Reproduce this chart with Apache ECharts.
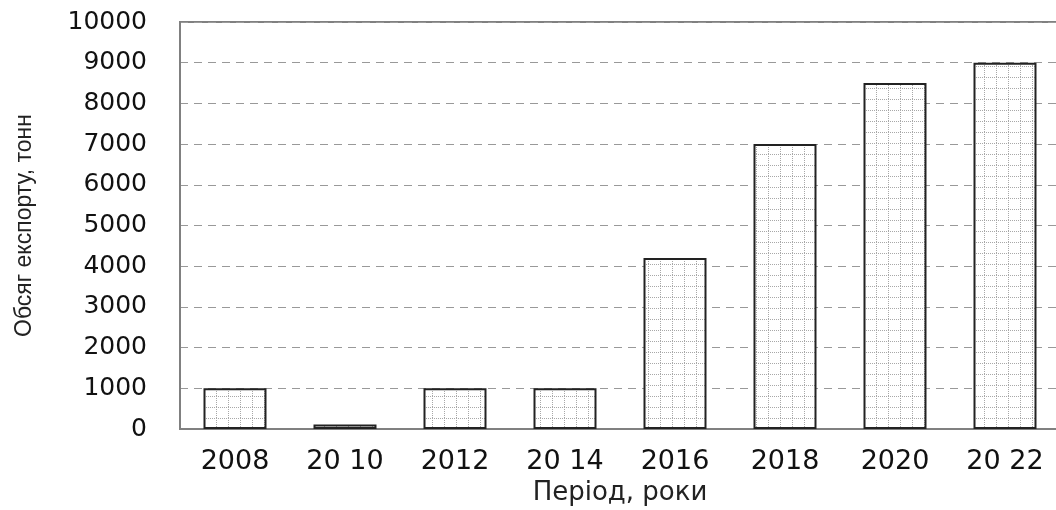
<!DOCTYPE html>
<html><head><meta charset="utf-8">
<script src="https://cdn.jsdelivr.net/npm/echarts@6/dist/echarts.min.js"></script>
<style>html,body{margin:0;padding:0;background:#fff}#c{width:1056px;height:510px}</style>
</head><body><div id="c"></div>
<script>
const categories = ['2008', '20 10', '2012', '20 14', '2016', '2018', '2020', '20 22'];
const exportVolume = [1000, 110, 1000, 1000, 4200, 7000, 8500, 9000];
const yTicks = [0, 1000, 2000, 3000, 4000, 5000, 6000, 7000, 8000, 9000, 10000];

function makePattern() {
  const c = document.createElement('canvas');
  c.width = 12; c.height = 11;
  const g = c.getContext('2d');
  g.fillStyle = '#ffffff'; g.fillRect(0, 0, 12, 11);
  g.fillStyle = '#a8a8a8';
  for (let y = 0; y < 11; y += 2) g.fillRect(0, y, 1, 1);
  for (let x = 0; x < 12; x += 2) g.fillRect(x, 0, 1, 1);
  return c;
}

const chart = echarts.init(document.getElementById('c'), null, {renderer: 'canvas'});
chart.setOption({
  animation: false,
  grid: {left: 180, top: 22, width: 880, height: 407, outerBoundsMode: 'none', containLabel: false,
    show: true, borderColor: '#808080', borderWidth: 2, backgroundColor: 'transparent'},
  xAxis: {
    type: 'category', data: categories,
    axisLine: {lineStyle: {color: '#808080', width: 2}},
    axisTick: {show: false},
    axisLabel: {color: '#111', fontFamily: 'DejaVu Sans', fontSize: 27, margin: 19},
    name: 'Період, роки', nameLocation: 'middle', nameGap: 51,
    nameTextStyle: {color: '#222', fontFamily: 'DejaVu Sans', fontSize: 26}
  },
  yAxis: {
    type: 'value', min: 0, max: 10000, interval: 1000,
    axisLine: {show: true, lineStyle: {color: '#808080', width: 2}},
    axisTick: {show: false},
    axisLabel: {color: '#111', fontFamily: 'DejaVu Sans', fontSize: 25, margin: 33,
      formatter: v => yTicks.includes(v) ? String(v) : ''},
    splitLine: {lineStyle: {color: '#999', type: [8, 6], width: 1}},
    name: 'Обсяг експорту, тонн', nameLocation: 'middle', nameGap: 144,
    nameTextStyle: {color: '#222', fontFamily: 'Liberation Sans', fontSize: 23}
  },
  series: [{
    type: 'bar', data: exportVolume, barWidth: 63,
    itemStyle: {color: {image: makePattern(), repeat: 'repeat'}, borderColor: '#222', borderWidth: 2}
  }]
});
</script></body></html>
